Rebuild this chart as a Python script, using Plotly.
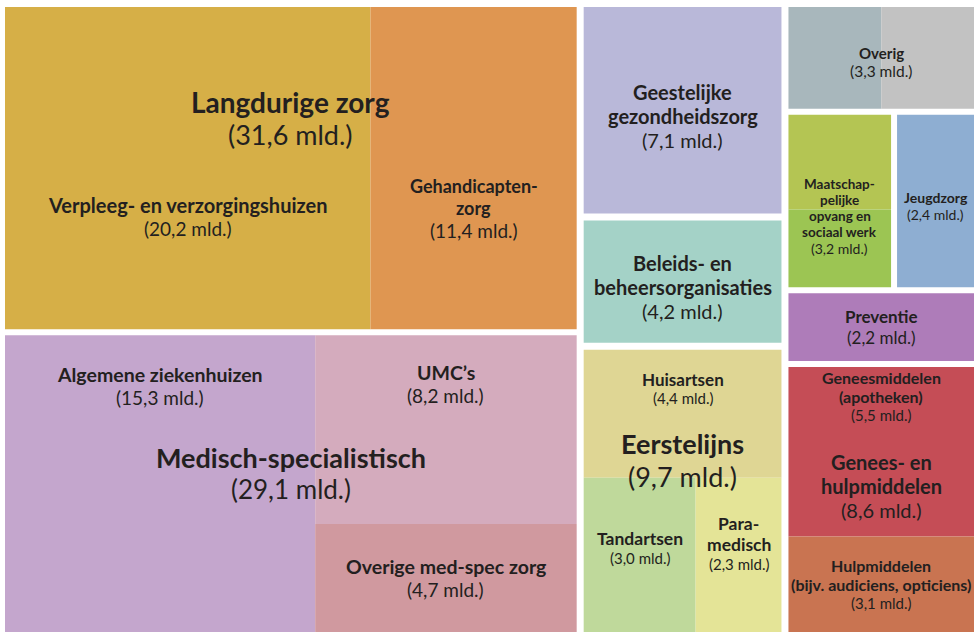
import plotly.graph_objects as go

# ---------------- data ----------------
group_names = [
    "Langdurige zorg", "Medisch-specialistisch", "Geestelijke gezondheidszorg",
    "Beleids- en beheersorganisaties", "Eerstelijns", "Overig",
    "Maatschappelijke opvang en sociaal werk", "Jeugdzorg", "Preventie",
    "Genees- en hulpmiddelen",
]
group_values = [31.6, 29.1, 7.1, 4.2, 9.7, 3.3, 3.2, 2.4, 2.2, 8.6]

sub_names = [
    "Verpleeg- en verzorgingshuizen", "Gehandicaptenzorg",
    "Algemene ziekenhuizen", "UMC's", "Overige med-spec zorg",
    "Huisartsen", "Tandartsen", "Paramedisch",
    "Geneesmiddelen (apotheken)", "Hulpmiddelen (bijv. audiciens, opticiens)",
]
sub_parents = [
    "Langdurige zorg", "Langdurige zorg",
    "Medisch-specialistisch", "Medisch-specialistisch", "Medisch-specialistisch",
    "Eerstelijns", "Eerstelijns", "Eerstelijns",
    "Genees- en hulpmiddelen", "Genees- en hulpmiddelen",
]
sub_values = [20.2, 11.4, 15.3, 8.2, 4.7, 4.4, 3.0, 2.3, 5.5, 3.1]
unit = "mld."

value_of = dict(zip(group_names, group_values))
value_of.update(zip(sub_names, sub_values))

# ---------------- structure of the tiling (slice / dice with gaps) ----------------
G = group_names
S = sub_names
top_tree = ("h", 7, [
    ("v", 6, [G[0], G[1]]),
    ("v", 7, [G[2], G[3], G[4]]),
    ("v", 6, [G[5], ("h", 6, [G[6], G[7]]), G[8], G[9]]),
])
child_tree = {
    G[0]: ("h", 0, [S[0], S[1]]),
    G[1]: ("h", 0, [S[2], ("v", 0, [S[3], S[4]])]),
    G[4]: ("v", 0, [S[5], ("h", 0, [S[6], S[7]])]),
    G[9]: ("v", 0, [S[8], S[9]]),
}

W, H = 975, 632
outer = (5, 7, 974, 632)


def node_value(node):
    if isinstance(node, str):
        return value_of[node]
    return sum(node_value(k) for k in node[2])


def place(node, rect, out):
    if isinstance(node, str):
        out[node] = rect
        if node in child_tree:
            place(child_tree[node], rect, out)
        return
    d, gap, kids = node
    vals = [node_value(k) for k in kids]
    tot = sum(vals)
    x0, y0, x1, y1 = rect
    span = ((x1 - x0) if d == "h" else (y1 - y0)) - gap * (len(kids) - 1)
    pos = x0 if d == "h" else y0
    for k, v in zip(kids, vals):
        size = span * v / tot
        r = (pos, y0, pos + size, y1) if d == "h" else (x0, pos, x1, pos + size)
        place(k, r, out)
        pos += size + gap


rects = {}
place(top_tree, outer, rects)

# ---------------- styles ----------------
colors = {
    S[0]: "#d6af47", S[1]: "#df9651",
    S[2]: "#c4a6cd", S[3]: "#d4abbd", S[4]: "#d0999f",
    G[2]: "#b9b8d9", G[3]: "#a4d2c7",
    S[5]: "#dfd694", S[6]: "#bfd99b", S[7]: "#e4e497",
    G[5]: "#a8b7bc", G[6]: "#b4c553", G[7]: "#8eaed2", G[8]: "#ae7cb9",
    S[8]: "#c54d56", S[9]: "#c97451",
}
# second tone inside a cell: (direction, fraction where it starts, colour)
second_tone = {
    G[5]: ("h", 0.5, "#c2c2c2"),
    G[6]: ("v", 0.55, "#9cc553"),
}

# label: (lines of name, fx, fy, name size, value size)
labels = {
    G[0]: (["Langdurige zorg"], 0.5, 0.345, 28, 27),
    S[0]: (["Verpleeg- en verzorgingshuizen"], 0.5, 0.65, 20, 19),
    S[1]: (["Gehandicapten-", "zorg"], 0.5, 0.625, 18, 19),
    G[1]: (["Medisch-specialistisch"], 0.5, 0.465, 27, 26),
    S[2]: (["Algemene ziekenhuizen"], 0.5, 0.17, 19.5, 19),
    S[3]: (["UMC’s"], 0.5, 0.26, 19.5, 19),
    S[4]: (["Overige med-spec zorg"], 0.5, 0.5, 19.5, 19),
    G[2]: (["Geestelijke", "gezondheidszorg"], 0.5, 0.53, 20, 20),
    G[3]: (["Beleids- en", "beheersorganisaties"], 0.5, 0.54, 20, 20),
    G[4]: (["Eerstelijns"], 0.5, 0.39, 27, 27),
    S[5]: (["Huisartsen"], 0.5, 0.3, 17, 15),
    S[6]: (["Tandartsen"], 0.5, 0.45, 17.5, 15),
    S[7]: (["Para-", "medisch"], 0.5, 0.42, 17.5, 15),
    G[5]: (["Overig"], 0.5, 0.54, 15, 15.5),
    G[6]: (["Maatschap-", "pelijke", "opvang en", "sociaal werk"], 0.5, 0.59, 13.5, 14),
    G[7]: (["Jeugdzorg"], 0.5, 0.53, 14, 14),
    G[8]: (["Preventie"], 0.5, 0.5, 17, 17),
    G[9]: (["Genees- en", "hulpmiddelen"], 0.5, 0.45, 20, 20),
    S[8]: (["Geneesmiddelen", "(apotheken)"], 0.5, 0.17, 16, 15),
    S[9]: (["Hulpmiddelen", "(bijv. audiciens, opticiens)"], 0.5, 0.5, 16, 15),
}
text_color = "#231f20"
font_family = "Lato"
line_height = 1.2


def fmt(v):
    return "(" + f"{v:.1f}".replace(".", ",") + " " + unit + ")"


fig = go.Figure()


def add_rect(x0, y0, x1, y1, color, name, v):
    fig.add_trace(go.Scatter(
        x=[x0, x1, x1, x0, x0], y=[y0, y0, y1, y1, y0],
        mode="lines", fill="toself", fillcolor=color,
        line=dict(width=0, color=color), name=name,
        hoveron="fills", hoverinfo="text", text=f"{name} {fmt(v)}",
        showlegend=False,
    ))


for name, color in colors.items():
    x0, y0, x1, y1 = rects[name]
    v = value_of[name]
    if name in second_tone:
        d, f, c2 = second_tone[name]
        if d == "h":
            xm = x0 + (x1 - x0) * f
            add_rect(x0, y0, xm, y1, color, name, v)
            add_rect(xm, y0, x1, y1, c2, name, v)
        else:
            ym = y0 + (y1 - y0) * f
            add_rect(x0, y0, x1, ym, color, name, v)
            add_rect(x0, ym, x1, y1, c2, name, v)
    else:
        add_rect(x0, y0, x1, y1, color, name, v)

for name, (lines, fx, fy, ns, vs) in labels.items():
    x0, y0, x1, y1 = rects[name]
    cx = x0 + (x1 - x0) * fx
    cy = y0 + (y1 - y0) * fy
    parts = [(f"<b>{l}</b>", ns) for l in lines] + [(fmt(value_of[name]), vs)]
    heights = [line_height * s for _, s in parts]
    y = cy - sum(heights) / 2
    for (t, s), h in zip(parts, heights):
        fig.add_annotation(
            x=cx, y=y + h / 2, xref="x", yref="y",
            text=t, showarrow=False, align="center",
            xanchor="center", yanchor="middle", borderpad=0,
            font=dict(family=font_family, size=s, color=text_color),
        )
        y += h

fig.update_layout(
    width=W, height=H, margin=dict(l=0, r=0, t=0, b=0),
    paper_bgcolor="white", plot_bgcolor="white",
    xaxis=dict(range=[0, W], visible=False, fixedrange=True),
    yaxis=dict(range=[H, 0], visible=False, fixedrange=True),
    hovermode="closest",
)

fig.write_html(
    "out.html",
    config={"displayModeBar": False},
    post_script="document.body.style.margin='0px';document.body.style.overflow='hidden';",
)
